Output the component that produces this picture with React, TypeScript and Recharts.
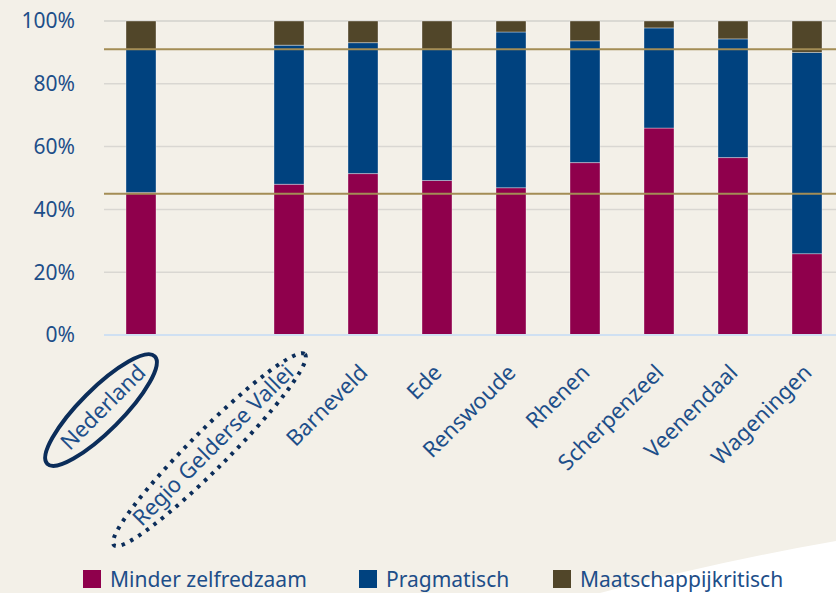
import React from 'react';
import { ComposedChart, Bar, XAxis, YAxis, CartesianGrid, ReferenceLine, Legend } from 'recharts';

const categories = [
  'Nederland',
  '',
  'Regio Gelderse Vallei',
  'Barneveld',
  'Ede',
  'Renswoude',
  'Rhenen',
  'Scherpenzeel',
  'Veenendaal',
  'Wageningen',
];

// percentages per profile
const minderZelfredzaam = [45.4, null, 48.0, 51.4, 49.2, 46.9, 54.9, 65.9, 56.5, 25.9];
const pragmatisch = [45.6, null, 44.3, 41.7, 41.8, 49.6, 38.8, 31.9, 37.8, 64.1];
const maatschappijkritisch = [9.0, null, 7.7, 6.9, 9.0, 3.5, 6.3, 2.2, 5.7, 10.0];

const yTicks = [0, 20, 40, 60, 80, 100];
// national level, drawn as benchmark lines
const benchmarks = [45, 91];

const COLORS = {
  minder: '#8f004c',
  prag: '#00427f',
  maat: '#514629',
  text: '#1d4e89',
  bench: '#a38d55',
  grid: '#d9d7d2',
  bg: '#f3f0e8',
  ring: '#0b2d5a',
};

const FONT = '"Noto Sans", sans-serif';

const data = categories.map((name, i) => ({
  name,
  minder: minderZelfredzaam[i],
  prag: pragmatisch[i],
  maat: maatschappijkritisch[i],
}));

// ellipses around the two reference labels (local coords of the rotated label)
const rings: Record<string, { cx: number; rx: number; ry: number; dotted: boolean }> = {
  Nederland: { cx: -58, rx: 76, ry: 21, dotted: false },
  'Regio Gelderse Vallei': { cx: -114, rx: 135, ry: 19, dotted: true },
};

const XTick = (props: any) => {
  const { x, y, payload } = props;
  const label = payload.value;
  if (!label) return null;
  const ring = rings[label];
  return (
    <g transform={`translate(${x + 6},${y + 31}) rotate(-45)`}>
      {ring && (
        <ellipse
          cx={ring.cx}
          cy={-7}
          rx={ring.rx}
          ry={ring.ry}
          fill="none"
          stroke={COLORS.ring}
          strokeWidth={4}
          strokeDasharray={ring.dotted ? '3.5 6' : undefined}
        />
      )}
      <text x={0} y={0} textAnchor="end" fill={COLORS.text} fontSize={22} fontFamily={FONT}>
        {label}
      </text>
    </g>
  );
};

const legendItems = [
  { label: 'Minder zelfredzaam', color: COLORS.minder, left: 83 },
  { label: 'Pragmatisch', color: COLORS.prag, left: 359 },
  { label: 'Maatschappijkritisch', color: COLORS.maat, left: 553 },
];

const LegendContent = () => (
  <div style={{ position: 'relative', height: 40 }}>
    {legendItems.map((it) => (
      <div
        key={it.label}
        style={{ position: 'absolute', left: it.left, top: 16, display: 'flex', alignItems: 'center' }}
      >
        <span style={{ width: 18, height: 18, background: it.color, display: 'inline-block', marginRight: 9 }} />
        <span style={{ fontFamily: FONT, fontSize: 21, color: COLORS.text, lineHeight: '20px' }}>{it.label}</span>
      </div>
    ))}
  </div>
);

const barStroke = 'rgba(255,255,255,0.35)';

export default function App() {
  return (
    <div
      style={{
        position: 'absolute',
        left: 0,
        top: 0,
        width: 836,
        height: 593,
        overflow: 'hidden',
        background: COLORS.bg,
      }}
    >
      <svg width={836} height={593} style={{ position: 'absolute', left: 0, top: 0 }}>
        <path d="M 600 593 Q 715 562 836 541 L 836 593 Z" fill="#ffffff" />
      </svg>
      <div style={{ position: 'absolute', left: 0, top: 0 }}>
        <ComposedChart
          width={844}
          height={593}
          data={data}
          margin={{ top: 21, right: 0, bottom: 0, left: 0 }}
          barCategoryGap={0}
        >
          <CartesianGrid vertical={false} stroke={COLORS.grid} strokeWidth={1.5} />
          <XAxis
            dataKey="name"
            interval={0}
            height={218}
            tickLine={false}
            axisLine={{ stroke: '#cfe0f2', strokeWidth: 2 }}
            tick={<XTick />}
          />
          <YAxis
            type="number"
            domain={[0, 100]}
            ticks={yTicks}
            width={104}
            axisLine={false}
            tickLine={false}
            tickMargin={23}
            tickFormatter={(v) => `${v}%`}
            tick={{ fill: COLORS.text, fontSize: 21, fontFamily: FONT }}
          />
          <Legend verticalAlign="bottom" height={40} content={<LegendContent />} />
          <Bar dataKey="minder" name="Minder zelfredzaam" stackId="a" fill={COLORS.minder} stroke={barStroke} barSize={30} isAnimationActive={false} />
          <Bar dataKey="prag" name="Pragmatisch" stackId="a" fill={COLORS.prag} stroke={barStroke} barSize={30} isAnimationActive={false} />
          <Bar dataKey="maat" name="Maatschappijkritisch" stackId="a" fill={COLORS.maat} stroke={barStroke} barSize={30} isAnimationActive={false} />
          {benchmarks.map((b) => (
            <ReferenceLine key={b} y={b} stroke={COLORS.bench} strokeWidth={2} />
          ))}
        </ComposedChart>
      </div>
    </div>
  );
}
